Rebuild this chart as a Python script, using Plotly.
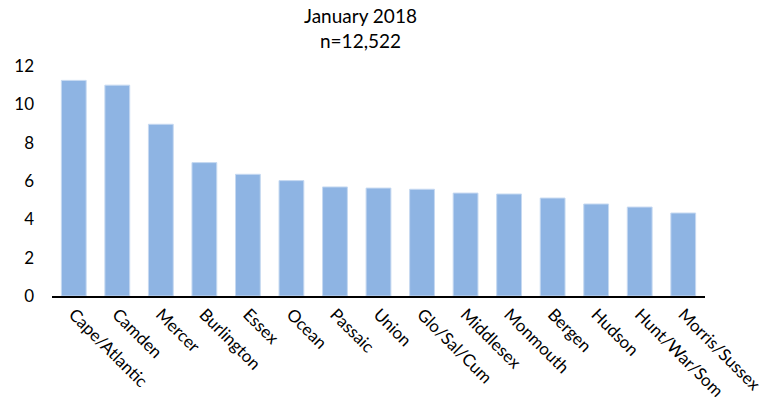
import plotly.graph_objects as go

categories = ["Cape/Atlantic", "Camden", "Mercer", "Burlington", "Essex", "Ocean",
              "Passaic", "Union", "Glo/Sal/Cum", "Middlesex", "Monmouth", "Bergen",
              "Hudson", "Hunt/War/Som", "Morris/Sussex"]
values = [11.25, 11.0, 8.96, 6.96, 6.35, 6.02, 5.69, 5.63, 5.57, 5.37, 5.32, 5.11,
          4.80, 4.64, 4.33]
title_lines = ["January 2018", "n=12,522"]
y_ticks = [0, 2, 4, 6, 8, 10, 12]

FONT = "Lato, 'Open Sans', sans-serif"

W, H = 776, 408
PL, PR, PT, PB = 52, 705, 66, 296  # plot area in window pixels

fig = go.Figure(go.Bar(
    x=categories, y=values,
    marker=dict(color="#8EB4E3", line=dict(color="#C6D9F1", width=1)),
))

fig.update_layout(
    width=W, height=H,
    margin=dict(l=PL, r=W - PR, t=PT, b=H - PB, autoexpand=False),
    paper_bgcolor="white", plot_bgcolor="white",
    bargap=0.43,
    showlegend=False,
    font=dict(family=FONT, size=17, color="#000000"),
)
for txt, ypx in zip(title_lines, [16, 40]):
    fig.add_annotation(text=txt, xref="paper", yref="paper",
                       x=(360 - PL) / (PR - PL), y=(PB - ypx) / (PB - PT),
                       xanchor="center", yanchor="middle", showarrow=False,
                       font=dict(family=FONT, size=19, color="#000000"))

fig.update_xaxes(showline=True, linecolor="#000000", linewidth=1.5, tickangle=45,
                 ticks="", showgrid=False, automargin=False, tickfont=dict(size=17))
fig.update_yaxes(range=[0, 12], tickvals=y_ticks, showgrid=False, zeroline=False,
                 showline=False, ticks="", automargin=False, tickfont=dict(size=17),
                 ticklabelstandoff=17)

fig.write_html("out.html", config={"displayModeBar": False},
               post_script="document.body.style.margin='0';")
